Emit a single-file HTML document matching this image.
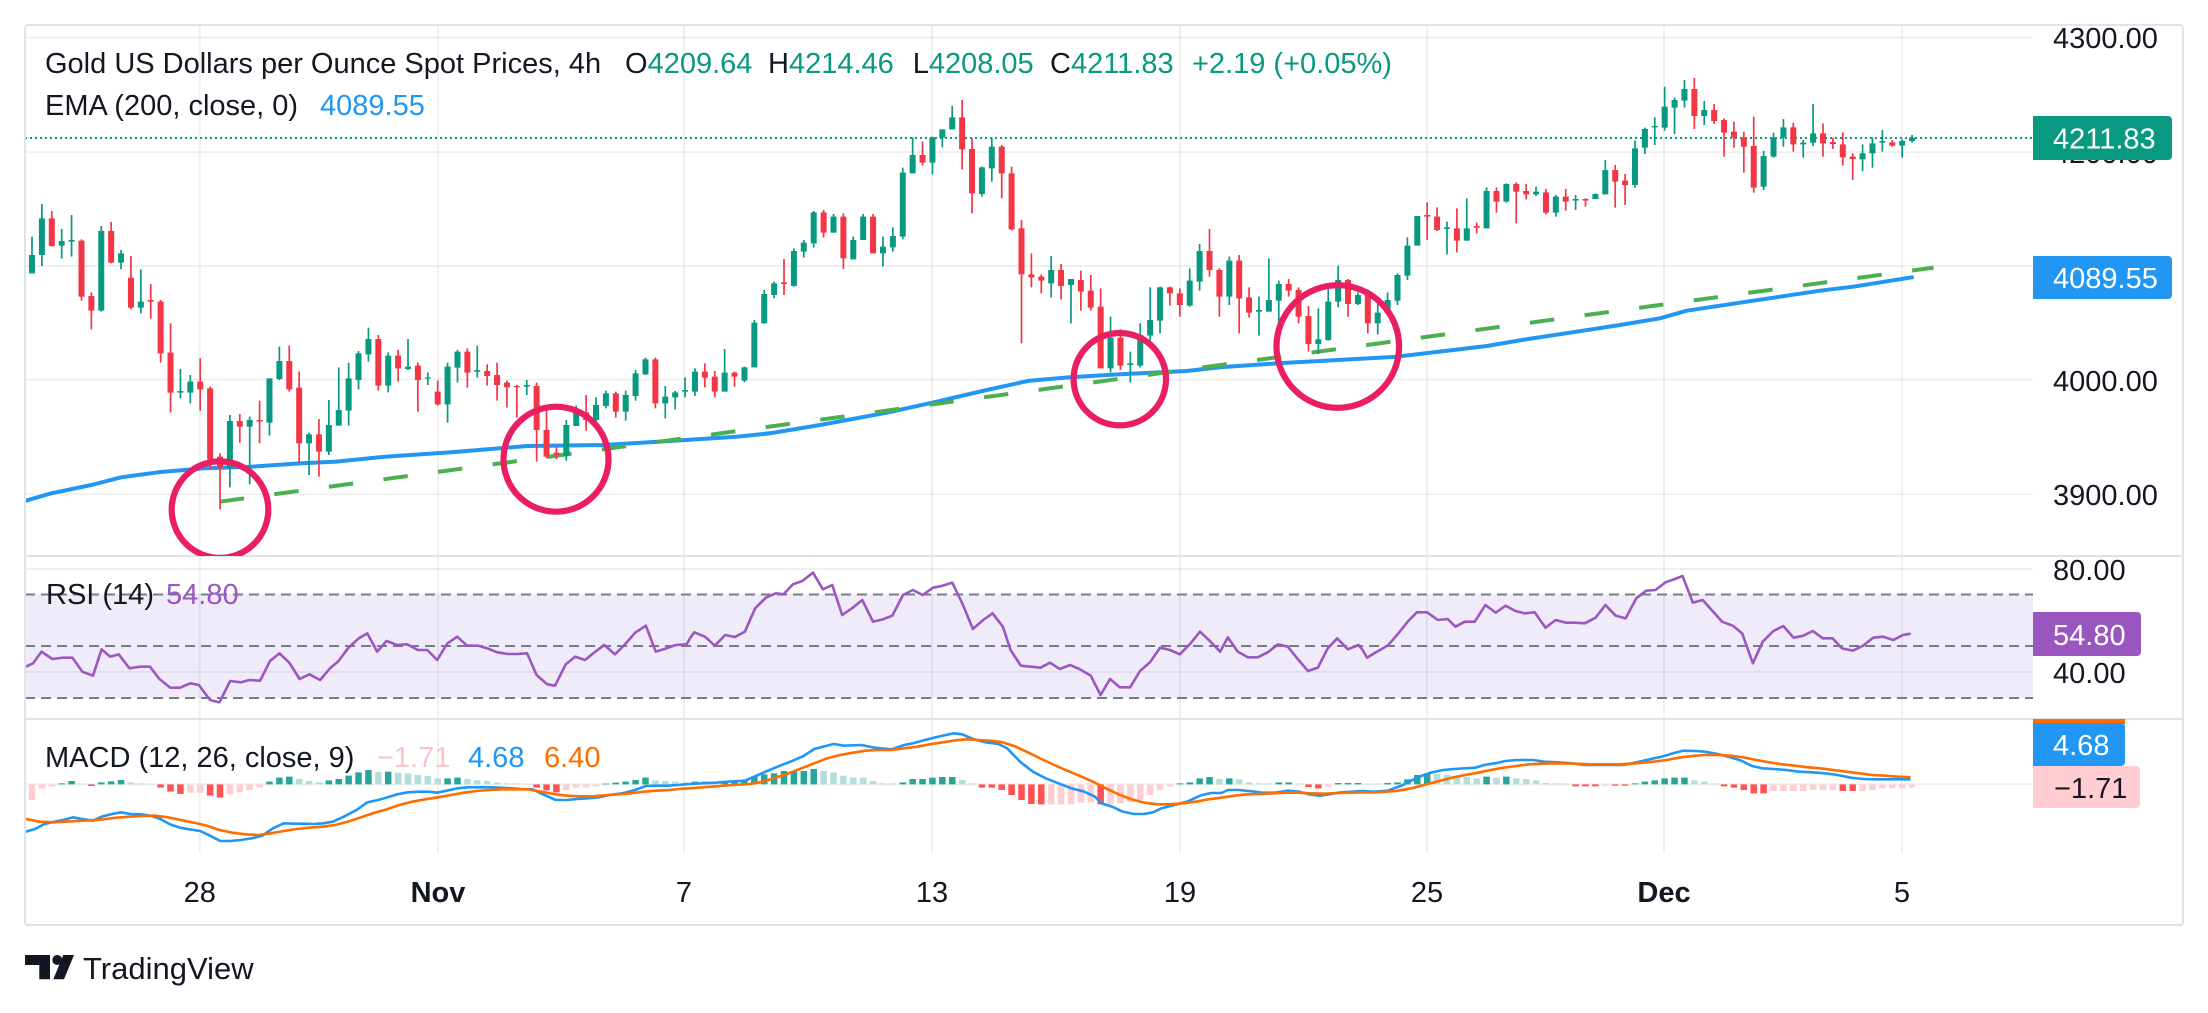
<!DOCTYPE html>
<html><head><meta charset="utf-8"><style>html,body{margin:0;padding:0;background:#fff;overflow:hidden}svg{display:block}</style></head>
<body>
<svg xmlns="http://www.w3.org/2000/svg" width="2208" height="1013" viewBox="0 0 2208 1013" font-family="Liberation Sans, Arial, sans-serif">
<defs>
<clipPath id="cm"><rect x="25" y="25" width="2008" height="531"/></clipPath>
<clipPath id="cr"><rect x="25" y="557" width="2008" height="161"/></clipPath>
<clipPath id="cd"><rect x="25" y="720" width="2008" height="133"/></clipPath>
</defs>
<rect width="2208" height="1013" fill="#fff"/>
<!-- RSI band -->
<rect x="25" y="594" width="2008" height="104" fill="#f0ebf8"/>
<!-- grid -->
<g stroke="rgba(42,46,57,0.07)" stroke-width="2" fill="none">
<path d="M25 37.5H2033M25 152.3H2033M25 266H2033M25 379.5H2033M25 494.3H2033M25 569H2033M25 672H2033M25 784.3H2033"/>
<path d="M199.7 25V853M438 25V853M684 25V853M932 25V853M1180 25V853M1427 25V853M1664 25V853M1902 25V853"/>
</g>
<!-- pane separators -->
<path d="M25 556H2183M25 719H2183" stroke="#e0e3eb" stroke-width="2"/>
<!-- RSI dashed levels -->
<path d="M25 594.5H2033M25 646H2033M25 698H2033" stroke="#787b86" stroke-width="2" stroke-dasharray="10 6"/>

<!-- MAIN PANE -->
<g clip-path="url(#cm)">
<line x1="25" y1="138" x2="2033" y2="138" stroke="#089981" stroke-width="2" stroke-dasharray="2 3"/>
<path d="M25 501L51.3 493.3L91.3 485L121.3 477.3L158 472.3L204.7 468.3L251.3 466.7L301.3 463.3L334.7 461.7L384.7 456.7L451.3 452.3L527.3 446L603.3 445L670 441L736.7 436.7L770 433.3L820 425L886.7 412.7L936.7 401.7L986.7 390L1029.3 380.7L1070 377.3L1120 374.3L1186.7 371L1220 367.3L1286.7 362.7L1320 361L1396.7 356.7L1453.3 350L1486.7 346L1525 339.5L1570 332.7L1620 325L1660 318.3L1686.7 310.7L1753.3 300.7L1820 290.7L1853.3 286.7L1912 277.3" fill="none" stroke="#2196f3" stroke-width="4" stroke-linejoin="round" stroke-linecap="round"/>
<line x1="219.7" y1="501.7" x2="1933.6" y2="267.6" stroke="#4caf50" stroke-width="4" stroke-dasharray="24.5 30.6"/>
<g transform="translate(22.105,40) scale(9.895,0.333333)" fill="none">
<path vector-effect="non-scaling-stroke" stroke="#089981" stroke-width="1.7" d="M1 590V700M2 492V678M4 567V656M5 525V650M8 558V815M10 630V688M12 688V820M16 987V1075M17 1005V1090M21 1125V1342M23 1130V1333M25 1015V1187M26 920V1020M29 1178V1305M31 1080V1245M32 982V1157M33 968V1157M34 933V1048M35 863V965M37 937V1057M39 897V990M41 997V1035M43 968V1148M44 930V1028M46 917V1013M51 1020V1065M55 1140V1262M56 1097V1158M58 1072V1148M59 1052V1105M61 1052V1142M62 990V1082M63 953V1005M65 1038V1135M66 1053V1108M67 1012V1072M68 985V1068M71 927V1055M73 980V1027M74 840V982M75 750V850M76 725V775M78 625V740M79 600V653M80 513V623M82 522V578M84 590V658M85 522V600M87 590V680M88 562V635M89 383V598M90 292V400M92 290V403M93 268V322M94 198V268M97 380V470M98 293V425M104 648V772M106 717V850M110 830V997M112 935V1027M113 850V982M114 742V920M115 740V880M118 685V800M119 612V752M122 650V795M125 770V887M126 655V815M127 722V867M131 805V942M132 735V902M133 677V802M135 757V795M137 785V883M138 757V820M139 700V795M140 592V720M141 528V617M144 545V643M146 475V602M148 442V565M150 430V488M153 440V468M155 465V530M157 465V510M159 460V477M160 360V463M163 302V443M164 263V342M165 232V315M166 140V272M167 173V282M168 120V203M170 183V255M176 333V450M177 278V353M178 237V320M180 300V353M181 192V318M186 313V393M187 293V383M188 270V335M190 298V353M191 285V308"/>
<path vector-effect="non-scaling-stroke" stroke="#089981" stroke-width="6" d="M1 645V700M2 535V645M4 603V617M5 600V605M8 573V812M10 640V668M12 785V803M16 1053V1058M17 1025V1058M21 1143V1285M23 1140V1160M25 1015V1148M26 963V1017M29 1183V1210M31 1155V1235M32 1110V1157M33 1015V1112M34 940V1020M35 897V943M37 947V1037M39 980V987M41 1012V1016M43 980V1093M44 935V983M46 990V995M51 1035V1040M55 1155V1248M56 1115V1158M58 1095V1140M59 1060V1098M61 1065V1115M62 1000V1068M63 958V1003M65 1070V1090M66 1057V1072M67 1050V1055M68 995V1055M71 998V1055M73 982V1022M74 848V982M75 762V850M76 730V765M78 633V738M79 608V635M80 517V610M82 530V578M84 600V658M85 530V600M87 620V640M88 588V622M89 398V590M90 345V400M92 292V368M93 268V293M94 232V268M97 382V462M98 320V385M104 690V730M106 717V735M110 893V985M112 970V975M113 885V977M114 840V887M115 742V842M118 722V797M119 633V725M122 662V770M125 810V815M126 780V815M127 732V782M131 898V912M132 785V900M133 720V785M135 765V792M137 818V850M138 780V818M139 705V782M140 617V707M141 528V617M144 562V567M146 565V602M148 453V565M150 432V485M153 455V463M155 470V518M157 477V482M159 462V477M160 390V463M163 325V435M164 267V323M165 258V262M166 200V263M167 180V203M168 147V182M170 210V228M176 348V440M177 292V350M178 262V292M180 308V313M181 280V308M186 340V358M187 310V340M188 303V308M190 303V317M191 293V303"/>
<path vector-effect="non-scaling-stroke" stroke="#f23645" stroke-width="1.7" d="M3 513V620M6 598V782M7 757V868M9 546V670M11 648V808M13 732V836M14 780V968M15 850V1117M18 955V1112M19 1040V1288M20 1240V1408M22 1122V1208M24 1082V1210M27 917V1055M28 995V1268M30 1137V1310M36 885V1052M38 930V1025M40 968V1115M42 1022V1097M45 925V1043M47 973V1037M48 968V1082M49 1022V1103M50 1035V1133M52 1028V1265M53 1100V1255M54 1220V1258M57 1065V1172M60 1055V1133M64 953V1105M69 970V1042M70 993V1072M72 995V1040M77 657V765M81 510V593M83 520V687M86 522V640M91 305V377M95 180V388M96 295V520M99 315V475M100 380V572M101 540V910M102 640V742M103 703V760M105 672V778M107 692V812M108 705V812M109 745V985M111 868V990M116 740V797M117 745V830M120 567V710M121 685V830M123 645V880M124 742V833M128 717V770M129 742V850M130 798V935M134 717V830M136 760V880M142 487V600M143 502V573M145 505V637M147 548V580M149 442V518M151 427V550M152 432V478M154 447V523M156 447V512M158 475V500M161 375V503M162 402V495M169 114V267M171 192V252M172 235V350M173 245V323M174 275V398M175 230V458M179 248V335M182 250V350M183 293V327M184 277V377M185 340V420M189 300V320"/>
<path vector-effect="non-scaling-stroke" stroke="#f23645" stroke-width="6" d="M3 535V618M6 602V770M7 768V812M9 573V668M11 713V803M13 780V785M14 785V940M15 938V1058M18 1025V1048M19 1045V1258M20 1250V1285M22 1143V1160M24 1140V1145M27 963V1048M28 1043V1210M30 1183V1235M36 897V1037M38 947V985M40 977V1020M42 1055V1093M45 935V998M47 993V1008M48 1005V1035M49 1028V1042M50 1038V1042M52 1038V1170M53 1170V1250M54 1238V1245M57 1117V1140M60 1060V1115M64 958V1090M69 995V1013M70 1010V1055M72 998V1010M77 727V732M81 517V578M83 530V655M86 530V640M91 345V368M95 232V328M96 327V460M99 320V400M100 400V568M101 565V703M102 703V712M103 710V722M105 690V738M107 720V755M108 752V803M109 800V985M111 893V977M116 742V760M117 760V795M120 633V690M121 690V770M123 662V775M124 772V818M128 732V752M129 750V830M130 828V912M134 720V792M136 762V850M142 525V530M143 530V570M145 565V602M147 558V563M149 453V485M151 432V455M152 453V463M154 457V518M156 470V485M158 477V482M161 390V425M162 422V435M169 147V228M171 210V243M172 240V278M173 275V293M174 292V320M175 318V443M179 262V313M182 280V310M183 306V312M184 313V352M185 350V357M189 307V317"/>
</g>
<g fill="none" stroke="#e91e63" stroke-width="6.2">
<circle cx="220" cy="509.6" r="48.3"/>
<circle cx="556" cy="459.2" r="52.5"/>
<circle cx="1119.8" cy="379.2" r="46.2"/>
<circle cx="1337.8" cy="346.5" r="61.3"/>
</g>
</g>

<!-- RSI line -->
<g clip-path="url(#cr)" fill="none" stroke="#9a58c0" stroke-width="2.6" stroke-linejoin="round">
<g transform="translate(18,555) scale(0.428571,0.333333)"><polyline vector-effect="non-scaling-stroke" points="18,335 35,325 55,290 80,312 105,308 127,308 150,350 175,362 195,283 215,305 235,298 260,340 285,335 308,335 330,372 355,398 378,398 402,385 422,390 448,435 470,442 495,378 520,382 540,375 565,377 588,318 610,295 633,323 657,372 680,358 705,375 728,340 748,318 770,280 795,250 815,235 838,290 860,258 885,270 908,268 933,285 955,285 978,315 1002,265 1025,245 1048,272 1073,272 1095,280 1118,292 1143,297 1165,297 1188,295 1210,360 1235,388 1253,392 1278,328 1300,305 1323,315 1345,292 1368,270 1393,298 1415,270 1440,233 1465,212 1488,290 1513,280 1535,270 1560,268 1568,250"/></g>
<g transform="translate(690,555) scale(0.428571,0.333333)"><polyline vector-effect="non-scaling-stroke" points="0,250 10,232 35,245 58,272 82,240 105,246 128,230 152,160 177,128 200,115 218,118 240,88 262,78 287,53 310,103 332,90 355,180 380,158 402,135 427,200 450,193 472,182 497,120 520,105 543,120 567,98 590,92 612,83 637,150 660,222 684,195 706,175 730,215 748,285 772,332 795,335 818,338 840,323 863,342 887,330 910,343 935,362 958,420 980,372 1003,397 1027,397 1050,348 1073,322 1097,278 1120,285 1143,298 1168,265 1190,230 1213,258 1237,290 1255,247 1278,290 1302,307 1325,307 1348,292 1372,268 1395,275 1418,312 1442,348 1465,338 1488,280 1510,250 1535,283 1560,270 1568,282"/></g>
<g transform="translate(1362,555) scale(0.428571,0.333333)"><polyline vector-effect="non-scaling-stroke" points="0,282 12,308 35,290 60,272 85,235 108,198 128,172 152,172 177,195 200,192 218,215 240,200 263,200 288,150 312,173 335,152 358,168 380,175 403,172 428,218 452,195 475,203 497,203 520,205 545,188 568,150 592,182 615,190 640,130 663,107 685,105 708,82 730,72 748,63 772,143 795,135 818,168 840,200 865,212 887,235 912,325 935,260 960,228 983,213 1007,248 1030,242 1052,228 1075,250 1098,250 1120,280 1145,287 1168,273 1193,248 1215,245 1240,255 1262,240 1280,236"/></g>
</g>

<!-- MACD -->
<g clip-path="url(#cd)">
<g transform="translate(22.105,555) scale(9.895,0.333333)" fill="none">
<path vector-effect="non-scaling-stroke" stroke="#26a69a" stroke-width="6.5" d="M4 688V685M5 688V678M8 688V682M9 688V679M10 688V675M25 688V680M26 688V668M27 688V665M31 688V676M32 688V672M33 688V662M34 688V652M35 688V645M37 688V650M43 688V670M44 688V668M59 688V686M60 688V683M61 688V680M62 688V675M63 688V668M68 688V680M69 688V680M71 688V680M72 688V680M73 688V677M74 688V664M75 688V658M76 688V655M77 688V648M78 688V648M79 688V648M80 688V642M89 688V682M90 688V672M91 688V672M92 688V668M93 688V666M94 688V666M117 688V685M118 688V682M119 688V670M120 688V666M122 688V670M127 688V682M128 688V682M133 688V684M134 688V684M135 688V684M138 688V684M139 688V682M140 688V673M141 688V660M142 688V655M148 688V665M150 688V665M163 688V685M164 688V680M165 688V676M166 688V670M167 688V668M168 688V668"/>
<path vector-effect="non-scaling-stroke" stroke="#b2dfdb" stroke-width="6.5" d="M6 688V686M11 688V682M12 688V685M13 688V686M28 688V672M29 688V678M30 688V682M36 688V651M38 688V653M39 688V655M40 688V660M41 688V663M42 688V670M45 688V672M46 688V676M47 688V678M48 688V683M49 688V685M50 688V686M51 688V686M64 688V676M65 688V678M66 688V680M67 688V682M70 688V683M81 688V648M82 688V652M83 688V662M84 688V668M85 688V668M86 688V678M87 688V685M88 688V685M95 688V675M96 688V685M121 688V672M123 688V673M124 688V682M125 688V685M126 688V685M129 688V686M136 688V686M137 688V686M143 688V657M144 688V660M145 688V665M146 688V665M147 688V670M149 688V668M151 688V670M152 688V672M153 688V676M154 688V684M155 688V686M156 688V686M169 688V676M170 688V680M171 688V686"/>
<path vector-effect="non-scaling-stroke" stroke="#ff5252" stroke-width="6.5" d="M7 688V693M14 688V698M15 688V710M16 688V717M19 688V722M20 688V728M52 688V698M53 688V706M54 688V712M97 688V698M98 688V698M99 688V705M100 688V720M101 688V735M102 688V747M103 688V748M109 688V748M130 688V696M131 688V700M157 688V694M158 688V694M159 688V694M161 688V692M162 688V692M172 688V694M173 688V698M174 688V705M175 688V715M176 688V715M184 688V708M185 688V708"/>
<path vector-effect="non-scaling-stroke" stroke="#ffcdd2" stroke-width="6.5" d="M1 688V735M2 688V700M3 688V695M17 688V713M18 688V713M21 688V718M22 688V712M23 688V705M24 688V698M55 688V705M56 688V698M57 688V698M58 688V694M104 688V748M105 688V748M106 688V748M107 688V743M108 688V742M110 688V747M111 688V745M112 688V742M113 688V735M114 688V720M115 688V705M116 688V695M132 688V695M160 688V692M177 688V708M178 688V708M179 688V708M180 688V708M181 688V705M182 688V705M183 688V705M186 688V708M187 688V705M188 688V700M189 688V700M190 688V700M191 688V698"/>
</g>
<g fill="none" stroke-width="2.6" stroke-linejoin="round">
<g transform="translate(18,555) scale(0.428571,0.333333)">
<polyline vector-effect="non-scaling-stroke" stroke="#2196f3" points="18,830 40,822 60,808 85,800 105,795 128,787 150,792 175,797 195,785 220,777 240,772 262,777 285,778 310,782 332,792 355,808 378,818 400,823 425,828 448,842 472,858 495,858 520,855 545,850 570,842 595,820 620,805 645,806 668,806 690,807 712,805 735,800 760,785 790,765 815,742 840,735 860,728 885,718 910,712 935,710 960,710 978,713 1000,707 1025,700 1050,697 1075,697 1100,697 1125,698 1150,700 1175,702 1200,703 1225,718 1255,735 1280,735 1305,732 1330,730 1355,727 1380,720 1410,715 1440,705 1465,693 1490,692 1515,692 1540,690 1568,687"/>
<polyline vector-effect="non-scaling-stroke" stroke="#ff6d00" points="18,792 50,800 80,802 110,800 140,798 170,796 200,793 230,788 260,785 290,783 320,782 350,787 380,795 410,803 440,812 470,825 500,833 530,838 560,840 590,835 620,828 650,822 680,818 710,815 740,810 770,800 800,787 830,774 860,763 890,750 920,740 950,733 980,727 1010,720 1040,713 1070,708 1100,705 1130,703 1160,703 1190,703 1220,710 1250,717 1280,722 1310,724 1340,724 1370,721 1400,718 1430,715 1460,710 1490,707 1520,705 1550,701 1568,700"/>
</g>
<g transform="translate(690,555) scale(0.428571,0.333333)">
<polyline vector-effect="non-scaling-stroke" stroke="#2196f3" points="0,687 30,685 60,683 90,680 128,677 150,665 180,648 210,632 240,617 265,603 290,582 335,567 360,572 400,570 430,578 470,583 500,570 520,565 545,556 570,548 590,542 615,535 635,538 660,552 690,562 720,567 740,580 770,620 800,650 830,670 860,685 890,700 920,710 945,725 960,745 985,755 1010,770 1035,777 1060,777 1080,772 1100,760 1130,750 1160,740 1190,722 1215,714 1240,714 1255,705 1280,705 1305,708 1335,713 1365,713 1395,707 1420,710 1445,718 1470,722 1490,718 1520,712 1545,710 1568,708"/>
<polyline vector-effect="non-scaling-stroke" stroke="#ff6d00" points="0,700 50,695 100,690 140,687 170,680 200,668 230,655 260,640 290,625 320,610 350,600 380,593 410,587 440,585 470,585 500,580 530,575 560,568 590,562 620,556 645,553 670,555 700,557 730,562 760,575 790,593 820,612 850,630 880,647 910,663 940,680 970,700 1000,718 1030,733 1060,743 1090,748 1120,748 1150,745 1180,740 1210,733 1240,728 1270,722 1300,718 1330,717 1360,715 1390,713 1420,713 1450,715 1480,716 1510,714 1540,713 1568,712"/>
</g>
<g transform="translate(1362,555) scale(0.428571,0.333333)">
<polyline vector-effect="non-scaling-stroke" stroke="#2196f3" points="0,708 30,710 60,707 90,693 115,677 140,662 160,653 190,645 215,642 240,640 265,638 285,630 310,625 335,618 360,615 400,615 425,620 455,622 490,625 520,630 550,630 580,630 610,630 640,622 670,613 700,605 725,595 750,587 780,588 800,590 830,597 860,607 885,617 910,633 935,640 960,642 990,645 1020,650 1050,652 1080,655 1110,660 1140,668 1170,672 1200,673 1230,673 1260,673 1280,673"/>
<polyline vector-effect="non-scaling-stroke" stroke="#ff6d00" points="0,712 40,712 80,708 115,700 150,688 180,678 210,668 240,660 270,653 300,645 330,638 360,633 390,628 420,626 460,625 500,626 530,628 560,628 600,628 640,625 680,620 710,615 740,608 770,603 800,600 830,600 860,602 890,607 920,615 950,622 980,628 1010,632 1040,637 1070,640 1100,645 1130,650 1160,655 1190,660 1220,662 1250,665 1280,667"/>
</g>
</g>
</g>

<!-- legends -->
<g font-size="29" fill="#131722">
<text x="45" y="73">Gold US Dollars per Ounce Spot Prices, 4h</text>
<text x="625" y="73">O<tspan fill="#089981">4209.64</tspan></text>
<text x="768" y="73">H<tspan fill="#089981">4214.46</tspan></text>
<text x="912.7" y="73">L<tspan fill="#089981">4208.05</tspan></text>
<text x="1050" y="73">C<tspan fill="#089981">4211.83</tspan></text>
<text x="1192" y="73" fill="#089981">+2.19 (+0.05%)</text>
<text x="45" y="115">EMA (200, close, 0)</text>
<text x="320" y="115" fill="#2196f3">4089.55</text>
<text x="46" y="604">RSI (14)</text>
<text x="166" y="604" fill="#9a58c0">54.80</text>
<text x="45" y="767">MACD (12, 26, close, 9)</text>
<text x="377" y="767" fill="#f9c4c9">−1.71</text>
<text x="468" y="767" fill="#2196f3">4.68</text>
<text x="544" y="767" fill="#ff6d00">6.40</text>
</g>

<!-- price axis labels -->
<g font-size="29" fill="#131722">
<text x="2053" y="48">4300.00</text>
<text x="2053" y="163">4200.00</text>
<text x="2053" y="277">4100.00</text>
<text x="2053" y="391">4000.00</text>
<text x="2053" y="505">3900.00</text>
<text x="2053" y="580">80.00</text>
<text x="2053" y="683">40.00</text>
</g>
<!-- label boxes -->
<path d="M2033 116H2168a4 4 0 0 1 4 4V156a4 4 0 0 1 -4 4H2033Z" fill="#089981"/>
<path d="M2033 256H2168a4 4 0 0 1 4 4V295a4 4 0 0 1 -4 4H2033Z" fill="#2196f3"/>
<path d="M2033 612H2137a4 4 0 0 1 4 4V652a4 4 0 0 1 -4 4H2033Z" fill="#9a56bf"/>
<rect x="2033" y="719" width="92" height="5" fill="#ff6d00"/>
<path d="M2033 723H2121a4 4 0 0 1 4 4V762a4 4 0 0 1 -4 4H2033Z" fill="#2196f3"/>
<path d="M2033 766H2136a4 4 0 0 1 4 4V804a4 4 0 0 1 -4 4H2033Z" fill="#ffcdd2"/>
<g font-size="29" fill="#ffffff">
<text x="2053" y="148.5">4211.83</text>
<text x="2053" y="288">4089.55</text>
<text x="2053" y="645">54.80</text>
<text x="2053" y="755">4.68</text>
</g>
<text x="2054" y="798" font-size="29" fill="#131722">−1.71</text>

<!-- time axis -->
<g font-size="29" fill="#131722" text-anchor="middle">
<text x="199.7" y="902">28</text>
<text x="438" y="902" font-weight="bold">Nov</text>
<text x="684" y="902">7</text>
<text x="932" y="902">13</text>
<text x="1180" y="902">19</text>
<text x="1427" y="902">25</text>
<text x="1664" y="902" font-weight="bold">Dec</text>
<text x="1902" y="902">5</text>
</g>

<!-- outer border -->
<rect x="25" y="25" width="2158" height="900" fill="none" stroke="#e0e3eb" stroke-width="2" rx="3"/>

<!-- logo -->
<g fill="#131722">
<polygon points="25,955 50,955 50,979.3 39.3,979.3 39.3,965 25,965"/>
<circle cx="57.3" cy="960" r="5"/>
<polygon points="63.3,955 74,955 64,979.3 53.3,979.3"/>
<text x="83" y="979" font-size="31">TradingView</text>
</g>
</svg>
</body></html>
